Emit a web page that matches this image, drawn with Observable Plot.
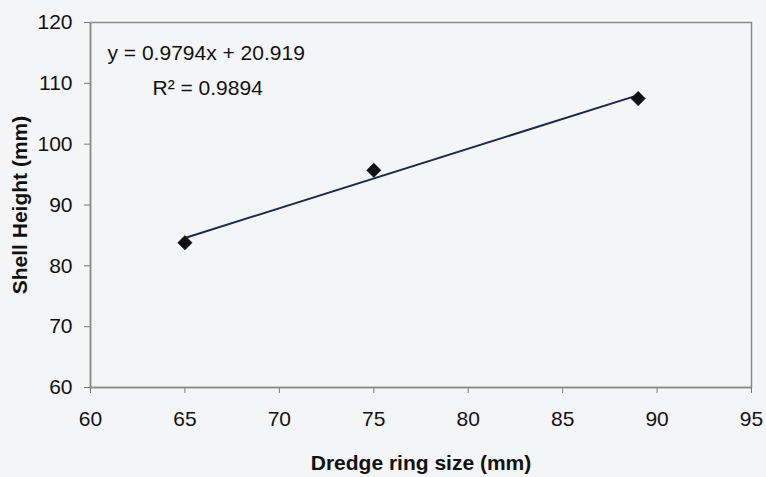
<!DOCTYPE html>
<html>
<head>
<meta charset="utf-8">
<script src="https://cdn.jsdelivr.net/npm/d3@7"></script>
<script src="https://cdn.jsdelivr.net/npm/@observablehq/plot@0.6"></script>
<style>
  html, body { margin: 0; padding: 0; background: #f4f5f7; }
  #chart svg { display: block; }
</style>
</head>
<body>
<div id="chart"></div>
<script>
// Data
const ringSize = [65, 75, 89];
const shellHeight = [83.8, 95.7, 107.5];
const xTicks = [60, 65, 70, 75, 80, 85, 90, 95];
const yTicks = [60, 70, 80, 90, 100, 110, 120];
const equationLines = ["y = 0.9794x + 20.919", "R\u00B2 = 0.9894"];
const xLabel = "Dredge ring size (mm)";
const yLabel = "Shell Height (mm)";

const data = ringSize.map((x, i) => ({x, y: shellHeight[i]}));

const chart = Plot.plot({
  width: 766,
  height: 477,
  marginLeft: 90,
  marginRight: 15,
  marginTop: 22,
  marginBottom: 90,
  style: {background: "#f4f5f7", fontFamily: "'Liberation Sans', Arial, sans-serif", fontSize: "21px", color: "#111"},
  x: {domain: [60, 95], ticks: xTicks, label: null},
  y: {domain: [60, 120], ticks: yTicks, label: null},
  marks: [
    Plot.frame({stroke: "#8c8c84", strokeWidth: 1.5}),
    Plot.axisX({ticks: xTicks, tickSize: 6, tickPadding: 18, fontSize: 21, stroke: "#777", fill: "#111", label: null}),
    Plot.axisY({ticks: yTicks, tickSize: 6, tickPadding: 12, fontSize: 21, stroke: "#777", fill: "#111", label: null}),
    Plot.ruleX([60], {stroke: "#8c8c84", strokeWidth: 1.5}),
    Plot.ruleY([60], {stroke: "#8c8c84", strokeWidth: 1.5}),
    Plot.linearRegressionY(data, {x: "x", y: "y", ci: 0, stroke: "#1c2a48", strokeWidth: 2}),
    Plot.dot(data, {x: "x", y: "y", symbol: "diamond2", r: 6.5, fill: "#111", stroke: "#111", strokeWidth: 0.5}),
    Plot.text([equationLines[0]], {frameAnchor: "top-left", dx: 17, dy: 23, textAnchor: "start", fontSize: 21, fill: "#111"}),
    Plot.text([equationLines[1]], {frameAnchor: "top-left", dx: 62, dy: 58, textAnchor: "start", fontSize: 21, fill: "#111"}),
    Plot.text([xLabel], {frameAnchor: "bottom", dy: 82, fontSize: 21, fontWeight: "bold", fill: "#111"}),
    Plot.text([yLabel], {frameAnchor: "left", dx: -70, rotate: -90, textAnchor: "middle", fontSize: 21, fontWeight: "bold", fill: "#111"})
  ]
});
document.getElementById("chart").appendChild(chart);
</script>
</body>
</html>
